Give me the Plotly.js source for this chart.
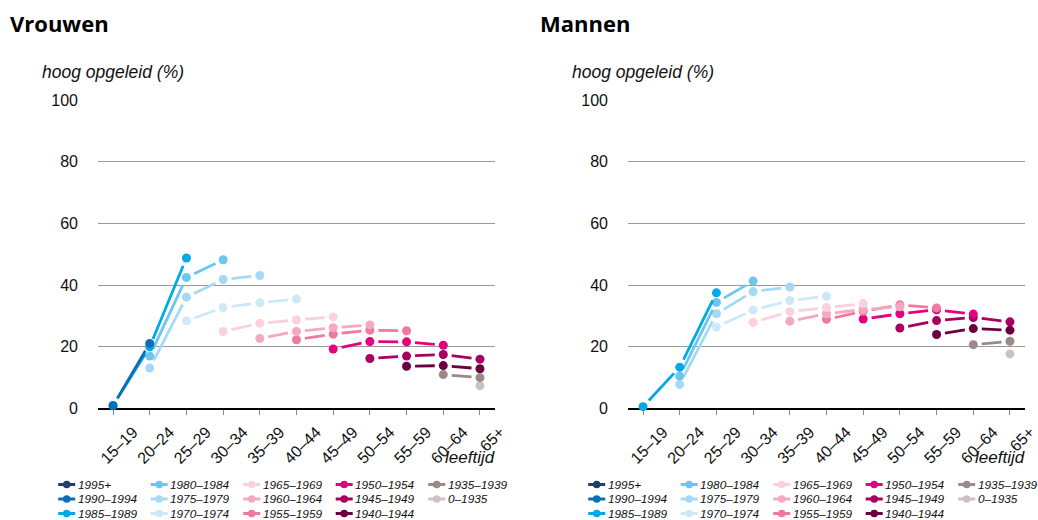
<!DOCTYPE html>
<html>
<head>
<meta charset="utf-8">
<script src="https://cdn.plot.ly/plotly-3.0.1.min.js"></script>
<style>
html,body{margin:0;padding:0;background:#fff;}
#chart{width:1038px;height:520px;}
</style>
</head>
<body>
<div id="chart"></div>
<script>
// ---- categories ----
const ageGroups = ['15–19','20–24','25–29','30–34','35–39','40–44','45–49','50–54','55–59','60–64','65+'];
const cohorts = ['1995+','1990–1994','1985–1989','1980–1984','1975–1979','1970–1974','1965–1969','1960–1964','1955–1959','1950–1954','1945–1949','1940–1944','1935–1939','0–1935'];
const cohortColors = ['#1f3f6e','#0a6fb8','#00a9e8','#6cc6ee','#a3daf5','#cde9f8','#fad1dc','#f5a8c0','#ee7aa0','#e6007e','#a8005f','#6a0040','#9a8a88','#cdc2c1'];

// ---- Vrouwen: % hoog opgeleid per leeftijdsgroep (one array per geboortecohort) ----
const vrouwen_1995plus   = [null, null, null, null, null, null, null, null, null, null, null];
const vrouwen_1990_1994  = [0.9, 21.1, null, null, null, null, null, null, null, null, null];
const vrouwen_1985_1989  = [1.0, 20.0, 48.8, null, null, null, null, null, null, null, null];
const vrouwen_1980_1984  = [null, 17.0, 42.5, 48.2, null, null, null, null, null, null, null];
const vrouwen_1975_1979  = [null, 13.1, 36.1, 41.8, 43.1, null, null, null, null, null, null];
const vrouwen_1970_1974  = [null, null, 28.4, 32.7, 34.3, 35.5, null, null, null, null, null];
const vrouwen_1965_1969  = [null, null, null, 25.0, 27.6, 28.7, 29.7, null, null, null, null];
const vrouwen_1960_1964  = [null, null, null, null, 22.7, 25.0, 26.2, 27.1, null, null, null];
const vrouwen_1955_1959  = [null, null, null, null, null, 22.3, 24.1, 25.4, 25.2, null, null];
const vrouwen_1950_1954  = [null, null, null, null, null, null, 19.3, 21.7, 21.6, 20.5, null];
const vrouwen_1945_1949  = [null, null, null, null, null, null, null, 16.2, 17.0, 17.5, 16.0];
const vrouwen_1940_1944  = [null, null, null, null, null, null, null, null, 13.7, 13.9, 12.9];
const vrouwen_1935_1939  = [null, null, null, null, null, null, null, null, null, 11.0, 10.0];
const vrouwen_0_1935     = [null, null, null, null, null, null, null, null, null, null, 7.4];

// ---- Mannen ----
const mannen_1995plus    = [null, null, null, null, null, null, null, null, null, null, null];
const mannen_1990_1994   = [null, null, null, null, null, null, null, null, null, null, null];
const mannen_1985_1989   = [0.6, 13.4, 37.5, null, null, null, null, null, null, null, null];
const mannen_1980_1984   = [null, 10.5, 34.4, 41.3, null, null, null, null, null, null, null];
const mannen_1975_1979   = [null, 7.8, 30.7, 37.9, 39.4, null, null, null, null, null, null];
const mannen_1970_1974   = [null, null, 26.4, 31.9, 35.0, 36.4, null, null, null, null, null];
const mannen_1965_1969   = [null, null, null, 27.9, 31.4, 32.7, 34.0, null, null, null, null];
const mannen_1960_1964   = [null, null, null, null, 28.3, 30.7, 32.1, 33.0, null, null, null];
const mannen_1955_1959   = [null, null, null, null, null, 28.9, 31.5, 33.6, 32.6, null, null];
const mannen_1950_1954   = [null, null, null, null, null, null, 29.0, 30.7, 32.0, 30.6, null];
const mannen_1945_1949   = [null, null, null, null, null, null, null, 26.1, 28.5, 29.5, 28.1];
const mannen_1940_1944   = [null, null, null, null, null, null, null, null, 24.0, 25.9, 25.4];
const mannen_1935_1939   = [null, null, null, null, null, null, null, null, null, 20.7, 21.8];
const mannen_0_1935      = [null, null, null, null, null, null, null, null, null, null, 17.7];

const vrouwenSeries = [vrouwen_1995plus, vrouwen_1990_1994, vrouwen_1985_1989, vrouwen_1980_1984, vrouwen_1975_1979, vrouwen_1970_1974, vrouwen_1965_1969, vrouwen_1960_1964, vrouwen_1955_1959, vrouwen_1950_1954, vrouwen_1945_1949, vrouwen_1940_1944, vrouwen_1935_1939, vrouwen_0_1935];
const mannenSeries = [mannen_1995plus, mannen_1990_1994, mannen_1985_1989, mannen_1980_1984, mannen_1975_1979, mannen_1970_1974, mannen_1965_1969, mannen_1960_1964, mannen_1955_1959, mannen_1950_1954, mannen_1945_1949, mannen_1940_1944, mannen_1935_1939, mannen_0_1935];

const yTicks = [0, 20, 40, 60, 80, 100];
const panelTitles = ['Vrouwen', 'Mannen'];
const yLabel = 'hoog opgeleid (%)';
const xLabel = 'leeftijd';

// ---- layout geometry (pixels) ----
const W = 1038, H = 520;
const PLOT_L = 98, PLOT_W = 397, PANEL_DX = 530;
const PLOT_TOP = 100, PLOT_BOTTOM = 408.5;
const X_RANGE = [-0.41, 10.41];
const Y_RANGE = [0, 100];
const pxPerCat = PLOT_W / (X_RANGE[1] - X_RANGE[0]);
const pxPerUnit = (PLOT_BOTTOM - PLOT_TOP) / (Y_RANGE[1] - Y_RANGE[0]);
const GAP = 8.5;
const FONT = 'Liberation Sans, Arial, Helvetica, sans-serif';

const fx = p => p / W;
const fy = p => 1 - p / H;

// dash pattern that leaves a small gap next to every marker
function segmentDash(ys) {
  if (ys.length < 2) return 'solid';
  const parts = [0, GAP];
  for (let i = 0; i < ys.length - 1; i++) {
    const L = Math.hypot(pxPerCat, (ys[i + 1] - ys[i]) * pxPerUnit);
    parts.push(Math.max(L - 2 * GAP, 0));
    parts.push(i < ys.length - 2 ? 2 * GAP : GAP + 3000);
  }
  return parts.map(p => p.toFixed(2) + 'px').join(',');
}

const traces = [];
const panels = [
  {series: vrouwenSeries, xa: 'x', ya: 'y'},
  {series: mannenSeries, xa: 'x2', ya: 'y2'}
];
panels.forEach(panel => {
  for (let k = cohorts.length - 1; k >= 0; k--) {
    const vals = panel.series[k];
    const xs = [], ys = [];
    vals.forEach((v, i) => { if (v !== null) { xs.push(ageGroups[i]); ys.push(v); } });
    if (!xs.length) continue;
    traces.push({
      type: 'scatter',
      mode: ys.length > 1 ? 'lines+markers' : 'markers',
      name: cohorts[k],
      x: xs, y: ys,
      xaxis: panel.xa, yaxis: panel.ya,
      line: {color: cohortColors[k], width: 2.8, dash: segmentDash(ys), simplify: false},
      marker: {color: cohortColors[k], size: 9, line: {width: 0}},
      cliponaxis: false,
      showlegend: false,
      hoverinfo: 'skip'
    });
  }
});

function xAxis(dx, anchor) {
  return {
    domain: [fx(PLOT_L + dx), fx(PLOT_L + dx + PLOT_W)],
    anchor: anchor,
    type: 'category',
    categoryorder: 'array',
    categoryarray: ageGroups,
    range: X_RANGE,
    showgrid: false, zeroline: false, showline: false,
    ticks: 'outside', ticklen: 5, tickwidth: 1, tickcolor: '#888',
    tickangle: -45,
    ticklabelshift: 20,
    ticklabelstandoff: 2,
    tickfont: {family: FONT, size: 16, color: '#111'},
    fixedrange: true
  };
}
function yAxis(anchor) {
  return {
    domain: [fy(PLOT_BOTTOM), fy(PLOT_TOP)],
    anchor: anchor,
    range: Y_RANGE,
    tickmode: 'array', tickvals: yTicks, ticktext: yTicks.map(String),
    showgrid: true, gridcolor: '#9a9a9a', gridwidth: 1,
    zeroline: true, zerolinecolor: '#000', zerolinewidth: 2,
    showline: false, ticks: '',
    ticklabelstandoff: 19,
    tickfont: {family: FONT, size: 16, color: '#111'},
    fixedrange: true
  };
}

const annotations = [];
const shapes = [];
[0, 1].forEach(p => {
  const dx = p * PANEL_DX;
  annotations.push({
    xref: 'paper', yref: 'paper', x: fx(8 + dx), y: fy(23), xanchor: 'left', yanchor: 'middle',
    text: '<b>' + panelTitles[p] + '</b>', showarrow: false,
    font: {family: 'Open Sans, sans-serif', size: 22, color: '#000'}
  });
  annotations.push({
    xref: 'paper', yref: 'paper', x: fx(40 + dx), y: fy(72), xanchor: 'left', yanchor: 'middle',
    text: '<i>' + yLabel + '</i>', showarrow: false,
    font: {family: FONT, size: 17.5, color: '#111'}
  });
  annotations.push({
    xref: 'paper', yref: 'paper', x: fx(497 + dx), y: fy(457), xanchor: 'right', yanchor: 'middle',
    text: '<i>' + xLabel + '</i>', showarrow: false,
    font: {family: FONT, size: 17, color: '#111'}
  });
  // legend (3 rows, column-major)
  cohorts.forEach((name, k) => {
    const col = Math.floor(k / 3), row = k % 3;
    const cx = 66.7 + col * 92.5 + dx;
    const cy = 484.5 + row * 14.5;
    shapes.push({type: 'line', xref: 'paper', yref: 'paper',
      x0: fx(cx - 8.5), x1: fx(cx + 8.5), y0: fy(cy), y1: fy(cy),
      line: {color: cohortColors[k], width: 3}});
    shapes.push({type: 'circle', xref: 'paper', yref: 'paper',
      x0: fx(cx - 3.8), x1: fx(cx + 3.8), y0: fy(cy - 3.8), y1: fy(cy + 3.8),
      fillcolor: cohortColors[k], line: {width: 0}});
    annotations.push({
      xref: 'paper', yref: 'paper', x: fx(cx + 9), y: fy(cy), xanchor: 'left', yanchor: 'middle',
      text: '<i>' + name + '</i>', showarrow: false,
      font: {family: FONT, size: 11.8, color: '#111'}
    });
  });
});

const layout = {
  width: W, height: H,
  margin: {l: 0, r: 0, t: 0, b: 0},
  paper_bgcolor: '#fff', plot_bgcolor: '#fff',
  showlegend: false,
  xaxis: xAxis(0, 'y'),
  yaxis: yAxis('x'),
  xaxis2: xAxis(PANEL_DX, 'y2'),
  yaxis2: yAxis('x2'),
  annotations: annotations,
  shapes: shapes
};

Plotly.newPlot('chart', traces, layout, {staticPlot: true, displayModeBar: false});
</script>
</body>
</html>
